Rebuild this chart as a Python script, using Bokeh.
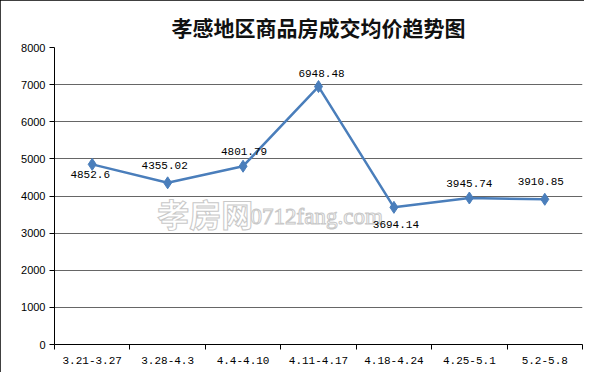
import numpy as np
from bokeh.plotting import figure
from bokeh.models import ColumnDataSource, LabelSet, FixedTicker, Range1d
from bokeh.core.properties import value
from bokeh.embed import file_html
from bokeh.resources import INLINE

# ---- data ----
title_text = "孝感地区商品房成交均价趋势图"
categories = ["3.21-3.27", "3.28-4.3", "4.4-4.10", "4.11-4.17", "4.18-4.24", "4.25-5.1", "5.2-5.8"]
prices = [4852.6, 4355.02, 4801.79, 6948.48, 3694.14, 3945.74, 3910.85]
price_labels = ["4852.6", "4355.02", "4801.79", "6948.48", "3694.14", "3945.74", "3910.85"]
y_ticks = [0, 1000, 2000, 3000, 4000, 5000, 6000, 7000, 8000]
watermark_main = "孝房网"
watermark_site = "0712fang.com"

# label placement (styling, pixel offsets)
label_dx = [-2, -3, 1, 3, 2, 0, -4]
label_dy = [-10, 17, 15, 13, -17, 15, 18]

n = len(categories)
xs = np.arange(n) + 0.5

p = figure(frame_width=528, frame_height=297,
           min_border_left=54, min_border_right=2, min_border_top=47, min_border_bottom=28,
           x_range=Range1d(0, n), y_range=Range1d(0, 8000),
           output_backend="svg", toolbar_location=None, tools="")
p.background_fill_color = "white"
p.border_fill_color = "white"
p.outline_line_color = None
p.styles = {"outline": "1px solid black", "outline-offset": "-1px"}

# title
p.title.text = title_text
p.title.align = "center"
p.title.vertical_align = "top"
p.title.offset = -14
p.title.text_font = "Noto Sans CJK SC"
p.title.text_font_style = "bold"
p.title.text_font_size = "21px"
p.title.text_color = "#111111"
p.title.standoff = 8

# grid
p.xgrid.grid_line_color = None
p.ygrid.ticker = FixedTicker(ticks=y_ticks)
p.ygrid.grid_line_color = "#666666"
p.ygrid.grid_line_width = 1

# y axis
p.yaxis.ticker = FixedTicker(ticks=y_ticks)
p.yaxis.axis_line_color = "black"
p.yaxis.major_tick_line_color = "black"
p.yaxis.major_tick_out = 5
p.yaxis.major_tick_in = 0
p.yaxis.minor_tick_line_color = None
p.yaxis.major_label_standoff = 4
p.yaxis.major_label_text_font = "Liberation Sans"
p.yaxis.major_label_text_font_size = "11px"
p.yaxis.major_label_text_color = "black"

# x axis: labels at centres, ticks at boundaries
p.xaxis.ticker = FixedTicker(ticks=list(xs), minor_ticks=list(range(n + 1)))
p.xaxis.major_label_overrides = {float(x): c for x, c in zip(xs, categories)}
p.xaxis.axis_line_color = "black"
p.xaxis.major_tick_line_color = None
p.xaxis.major_tick_out = 0
p.xaxis.major_tick_in = 0
p.xaxis.minor_tick_line_color = "black"
p.xaxis.minor_tick_out = 5
p.xaxis.minor_tick_in = 0
p.xaxis.major_label_standoff = 7
p.xaxis.major_label_text_font = "Liberation Mono"
p.xaxis.major_label_text_font_size = "11px"
p.xaxis.major_label_text_color = "black"

# watermark
p.text(x=[2.0], y=[3530], text=[watermark_main], text_font=value("Noto Sans CJK SC"),
       text_font_size="32px", text_font_style="bold", text_align="center", text_baseline="middle",
       text_color="white", text_outline_color="#c8c8c8")
p.text(x=[2.6], y=[3450], text=[watermark_site], text_font=value("Liberation Serif"),
       text_font_size="23px", text_align="left", text_baseline="middle",
       text_color="white", text_outline_color="#c8c8c8")

src = ColumnDataSource(dict(x=xs, y=prices, lab=price_labels, dx=label_dx, dy=label_dy))
p.line("x", "y", source=src, line_color="#4a7ebb", line_width=2.5)
p.scatter("x", "y", source=src, marker="diamond", size=12, fill_color="#4a7ebb", line_color="#4a7ebb")

p.add_layout(LabelSet(x="x", y="y", text="lab", source=src, x_offset="dx", y_offset="dy",
                      text_align="center", text_baseline="middle",
                      text_font=value("Liberation Mono"), text_font_size="11px", text_color="black"))

open("out.html", "w").write(file_html(p, INLINE))
